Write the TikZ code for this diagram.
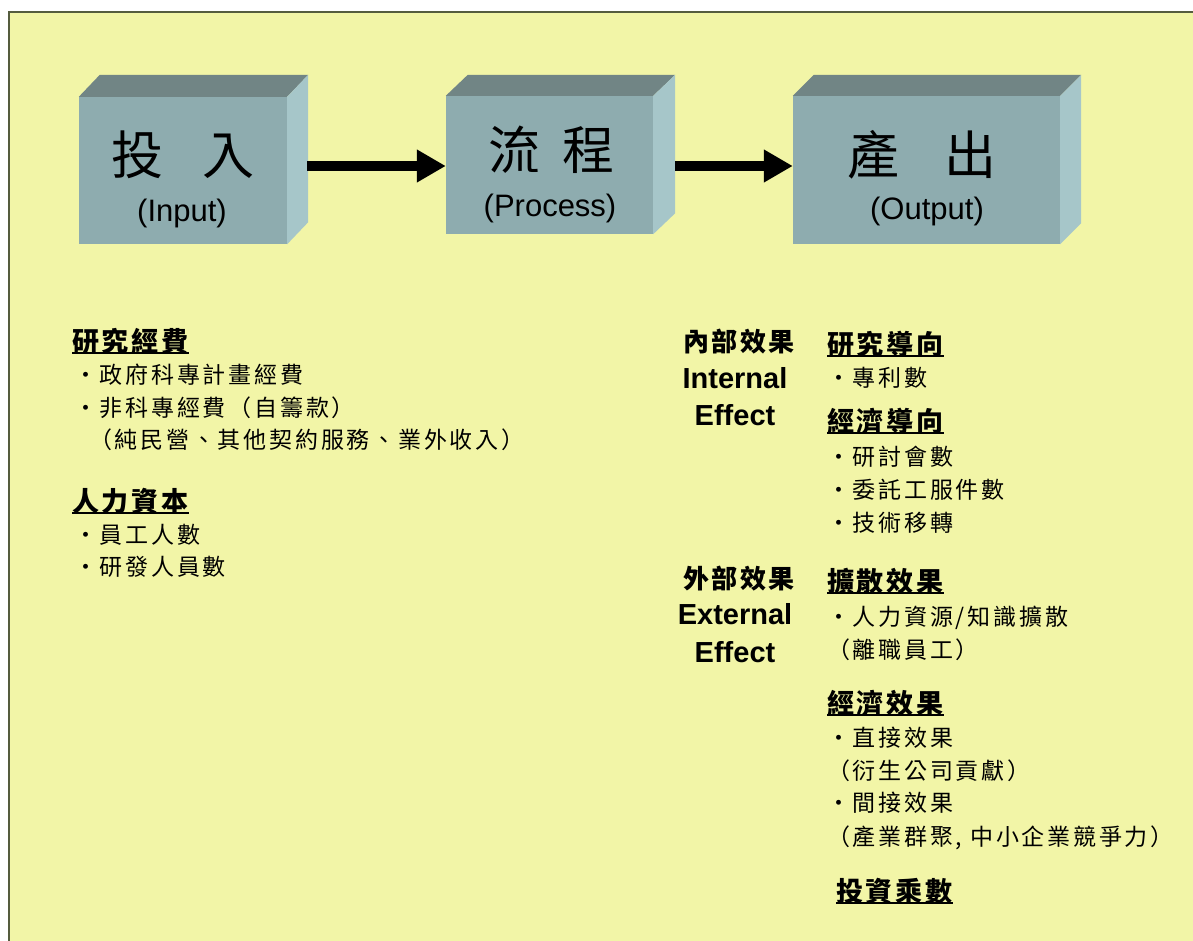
\documentclass[tikz,border=0pt]{standalone}
\usepackage{fontspec}
\setmainfont{Liberation Sans}
\newfontfamily\cjkbody[LetterSpace=12]{Noto Sans CJK TC}
\newfontfamily\cjkhead[LetterSpace=10]{Noto Sans CJK TC}
\newfontfamily\cjkbig{Noto Sans CJK TC}
\usetikzlibrary{arrows.meta}
\definecolor{bgyellow}{RGB}{242,245,167}
\definecolor{framec}{RGB}{85,92,62}
\definecolor{frontc}{RGB}{142,172,175}
\definecolor{topc}{RGB}{113,133,133}
\definecolor{sidec}{RGB}{166,198,201}
\newcommand\myBody{\cjkbody\fontsize{23}{23}\selectfont}
\newcommand\myHead{\cjkhead\bfseries\fontsize{27}{27}\selectfont}
\newcommand\myBig{\cjkbig\fontsize{52}{52}\selectfont}
\newcommand\myLat{\fontsize{31}{31}\selectfont}
\newcommand\myEff{\bfseries\fontsize{29}{29}\selectfont}
\newcommand\myEffC{\cjkhead\bfseries\fontsize{26}{26}\selectfont}
\tikzset{
  face/.style={fill=frontc, draw=none, inner sep=0pt},
  topface/.style={fill=topc},
  sideface/.style={fill=sidec},
  bigtxt/.style={inner sep=0pt, font=\myBig},
  lattxt/.style={inner sep=0pt, font=\myLat},
  bodytxt/.style={anchor=west, inner sep=0pt, font=\myBody},
  headtxt/.style={anchor=west, inner sep=0pt, font=\myHead},
  efftxt/.style={inner sep=0pt, font=\myEff},
  effc/.style={inner sep=0pt, font=\myEffC},
  uline/.style={line width=2pt},
  fatarrow/.style={line width=10pt, -{Triangle[length=29pt,width=31pt]}}
}
\begin{document}
\begin{tikzpicture}[x=1pt,y=-1pt]
\useasboundingbox (0,0) rectangle (1193,941);
\fill[white] (0,0) rectangle (1193,941);
\fill[bgyellow] (9,12) rectangle (1193,941);
\draw[framec, line width=1.5pt] (9,941) -- (9,12) -- (1193,12);

% boxes
\node[face, minimum width=208pt, minimum height=147pt] (b1) at (183,170.5) {};
\fill[topface] (b1.north west) -- ++(21,-22) -- ([shift={(21,-22)}]b1.north east) -- (b1.north east) -- cycle;
\fill[sideface] (b1.north east) -- ++(21,-22) -- ([shift={(21,-22)}]b1.south east) -- (b1.south east) -- cycle;

\node[face, minimum width=207pt, minimum height=138pt] (b2) at (549.5,165) {};
\fill[topface] (b2.north west) -- ++(22,-21) -- ([shift={(22,-21)}]b2.north east) -- (b2.north east) -- cycle;
\fill[sideface] (b2.north east) -- ++(22,-21) -- ([shift={(22,-21)}]b2.south east) -- (b2.south east) -- cycle;

\node[face, minimum width=267pt, minimum height=148pt] (b3) at (926.5,170) {};
\fill[topface] (b3.north west) -- ++(21,-21) -- ([shift={(21,-21)}]b3.north east) -- (b3.north east) -- cycle;
\fill[sideface] (b3.north east) -- ++(21,-21) -- ([shift={(21,-21)}]b3.south east) -- (b3.south east) -- cycle;

% box texts
\node[bigtxt] (t1) at (183,155) {投\hspace{40pt}入};
\node[lattxt] (t1e) at (182,213) {(Input)};
\node[bigtxt] (t2) at (551,150) {流\hspace{22pt}程};
\node[lattxt] (t2e) at (550,208) {(Process)};
\node[bigtxt] (t3) at (922,155) {產\hspace{46pt}出};
\node[lattxt] (t3e) at (927,211) {(Output)};

% arrows
\coordinate (a1) at (307,166);
\coordinate (a2) at (675,166);
\draw[fatarrow] (a1) -- (b2.west |- a1);
\draw[fatarrow] (a2) -- (b3.west |- a2);

% left column
\node[headtxt] (h1) at (72,341) {研究經費};
\draw[uline] ([yshift=1pt]h1.south west) -- ([yshift=1pt]h1.south east);
\node[bodytxt] (l1) at (74,375) {・政府科專計畫經費};
\node[bodytxt] (l2) at (74,408) {・非科專經費（自籌款）};
\node[bodytxt] (l3) at (89,440) {（純民營、其他契約服務、業外收入）};
\node[headtxt] (h2) at (72,501) {人力資本};
\draw[uline] ([yshift=1pt]h2.south west) -- ([yshift=1pt]h2.south east);
\node[bodytxt] (l4) at (74,535) {・員工人數};
\node[bodytxt] (l5) at (74,567) {・研發人員數};

% effect labels
\node[effc] (ie) at (739,342) {內部效果};
\node[efftxt] (ie1) at (735,378) {Internal};
\node[efftxt] (ie2) at (735,415) {Effect};
\node[effc] (ee) at (739,579) {外部效果};
\node[efftxt] (ee1) at (735,614) {External};
\node[efftxt] (ee2) at (735,652) {Effect};

% right column
\node[headtxt] (h3) at (827,344) {研究導向};
\draw[uline] ([yshift=1pt]h3.south west) -- ([yshift=1pt]h3.south east);
\node[bodytxt] (r1) at (827,378) {・專利數};
\node[headtxt] (h4) at (827,421) {經濟導向};
\draw[uline] ([yshift=1pt]h4.south west) -- ([yshift=1pt]h4.south east);
\node[bodytxt] (r2) at (827,457) {・研討會數};
\node[bodytxt] (r3) at (827,490) {・委託工服件數};
\node[bodytxt] (r4) at (827,523) {・技術移轉};
\node[headtxt] (h5) at (827,581) {擴散效果};
\draw[uline] ([yshift=1pt]h5.south west) -- ([yshift=1pt]h5.south east);
\node[bodytxt] (r5) at (827,618) {・人力資源/知識擴散};
\node[bodytxt] (r6) at (827,650) {（離職員工）};
\node[headtxt] (h6) at (827,703) {經濟效果};
\draw[uline] ([yshift=1pt]h6.south west) -- ([yshift=1pt]h6.south east);
\node[bodytxt] (r7) at (827,738) {・直接效果};
\node[bodytxt] (r8) at (827,771) {（衍生公司貢獻）};
\node[bodytxt] (r9) at (827,803) {・間接效果};
\node[bodytxt] (r10) at (827,838) {（產業群聚, 中小企業競爭力）};
\node[headtxt] (h7) at (836,891) {投資乘數};
\draw[uline] ([yshift=1pt]h7.south west) -- ([yshift=1pt]h7.south east);
\end{tikzpicture}
\end{document}
